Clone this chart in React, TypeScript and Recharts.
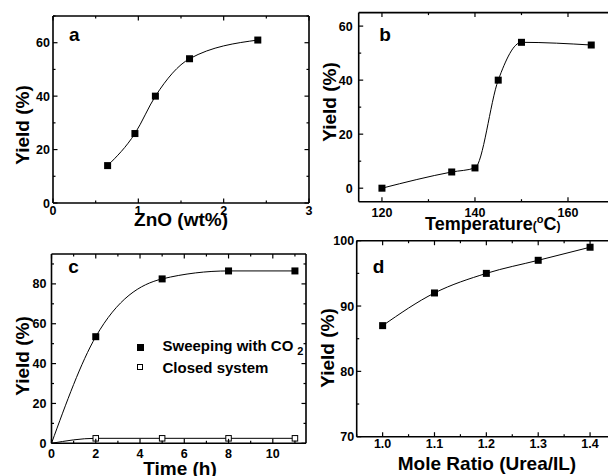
import React from 'react';
import { LineChart, Line, XAxis, YAxis, Legend } from 'recharts';

// panel a: ZnO loading
const znoLoading = [0.64, 0.96, 1.2, 1.6, 2.4];
const znoYield = [14, 26, 40, 54, 61];
// panel b: temperature
const temperatures = [120, 135, 140, 145, 150, 165];
const temperatureYield = [0, 6, 7.5, 40, 54, 53];
// panel c: time
const times = [0, 2, 5, 8, 11];
const sweepingYield = [0, 53.5, 82.5, 86.5, 86.5];
const closedYield = [0, 2.5, 2.5, 2.5, 2.5];
// panel d: mole ratio
const moleRatios = [1.0, 1.1, 1.2, 1.3, 1.4];
const moleRatioYield = [87, 92, 95, 97, 99];

const aXMajor = [0, 1, 2, 3];
const aXAll = [0, 0.5, 1, 1.5, 2, 2.5, 3];
const aYMajor = [0, 20, 40, 60];
const aYAll = [0, 10, 20, 30, 40, 50, 60, 70];
const bXMajor = [120, 140, 160];
const bXAll = [120, 130, 140, 150, 160, 170];
const bYMajor = [0, 20, 40, 60];
const bYAll = [0, 10, 20, 30, 40, 50, 60];
const cXMajor = [0, 2, 4, 6, 8, 10];
const cXAll = [0, 1, 2, 3, 4, 5, 6, 7, 8, 9, 10, 11];
const cYMajor = [0, 20, 40, 60, 80];
const cYAll = [0, 10, 20, 30, 40, 50, 60, 70, 80, 90];
const dXMajor = [1.0, 1.1, 1.2, 1.3, 1.4];
const dXAll = [0.95, 1.0, 1.05, 1.1, 1.15, 1.2, 1.25, 1.3, 1.35, 1.4, 1.45];
const dYMajor = [70, 80, 90, 100];
const dYAll = [70, 75, 80, 85, 90, 95, 100];

const legendOrder = ['Sweeping with CO2', 'Closed system'];

const FONT = '"Liberation Sans", Arial, Helvetica, sans-serif';
const W = 640;
const H = 476;

type Side = 'bottom' | 'top' | 'left' | 'right';

const tickMark =
  (side: Side, majors: number[], gap?: number, fmt: (v: number) => string = (v) => String(v)) =>
  (props: any) => {
    const { x, y, payload } = props;
    const v = payload.value;
    const major = majors.some((m) => Math.abs(m - v) < 1e-9);
    const len = major ? 4.5 : 2.5;
    const d =
      side === 'bottom' ? [0, -len] : side === 'top' ? [0, len] : side === 'left' ? [len, 0] : [-len, 0];
    let label = null;
    if (gap !== undefined && major) {
      label =
        side === 'bottom' ? (
          <text x={x} y={y + gap} textAnchor="middle" fontSize={12.5} fontWeight={700} fontFamily={FONT} fill="#000">
            {fmt(v)}
          </text>
        ) : (
          <text x={x - gap} y={y + 4.5} textAnchor="end" fontSize={12.5} fontWeight={700} fontFamily={FONT} fill="#000">
            {fmt(v)}
          </text>
        );
    }
    return (
      <g>
        <line x1={x} y1={y} x2={x + d[0]} y2={y + d[1]} stroke="#000" strokeWidth={1.2} />
        {label}
      </g>
    );
  };

const squareDot = (hollow: boolean) => (props: any) => {
  const { cx, cy, index, payload } = props;
  if (payload.x === 0 || cx == null) return <g key={`d-${index}`} />;
  const s = hollow ? 5.5 : 7;
  return (
    <rect
      key={`d-${index}`}
      x={cx - s / 2}
      y={cy - s / 2}
      width={s}
      height={s}
      fill={hollow ? '#fff' : '#000'}
      stroke="#000"
      strokeWidth={hollow ? 1 : 0}
    />
  );
};

interface Box {
  left: number;
  top: number;
  right: number;
  bottom: number;
}

interface PanelProps {
  box: Box;
  xDomain: [number, number];
  yDomain: [number, number];
  xAll: number[];
  xMajor: number[];
  yAll: number[];
  yMajor: number[];
  xGap: number;
  yGap: number;
  xFmt?: (v: number) => string;
  data: any[];
  series: { key: string; name: string; hollow?: boolean }[];
  legend?: React.ReactNode;
}

const axisLine = { stroke: '#000', strokeWidth: 1.6 };

// axes are 1px thick boxes; margins are set so the axis lines fall on the box edges
const Panel: React.FC<PanelProps> = (p) => (
  <div style={{ position: 'absolute', left: 0, top: 0 }}>
    <LineChart
      width={W}
      height={H}
      data={p.data}
      margin={{
        left: p.box.left - 1,
        top: p.box.top - 1,
        right: W - p.box.right - 1,
        bottom: H - p.box.bottom - 1,
      }}
    >
      <XAxis
        dataKey="x"
        type="number"
        domain={p.xDomain}
        allowDataOverflow
        ticks={p.xAll}
        interval={0}
        height={1}
        tickSize={0}
        tickMargin={0}
        tickLine={false}
        axisLine={axisLine}
        tick={tickMark('bottom', p.xMajor, p.xGap, p.xFmt)}
      />
      <XAxis
        xAxisId="top"
        dataKey="x"
        orientation="top"
        type="number"
        domain={p.xDomain}
        allowDataOverflow
        ticks={p.xAll}
        interval={0}
        height={1}
        tickSize={0}
        tickMargin={0}
        tickLine={false}
        axisLine={axisLine}
        tick={tickMark('top', p.xMajor)}
      />
      <YAxis
        type="number"
        domain={p.yDomain}
        allowDataOverflow
        ticks={p.yAll}
        interval={0}
        width={1}
        tickSize={0}
        tickMargin={0}
        tickLine={false}
        axisLine={axisLine}
        tick={tickMark('left', p.yMajor, p.yGap)}
      />
      <YAxis
        yAxisId="right"
        dataKey={p.series[0].key}
        orientation="right"
        type="number"
        domain={p.yDomain}
        allowDataOverflow
        ticks={p.yAll}
        interval={0}
        width={1}
        tickSize={0}
        tickMargin={0}
        tickLine={false}
        axisLine={axisLine}
        tick={tickMark('right', p.yMajor)}
      />
      {p.series.map((s) => (
        <Line
          key={s.key}
          dataKey={s.key}
          name={s.name}
          type="monotone"
          stroke="#000"
          strokeWidth={1}
          dot={squareDot(!!s.hollow)}
          activeDot={false}
          isAnimationActive={false}
        />
      ))}
      {p.legend}
    </LineChart>
  </div>
);

const legendLabel = (name: string) =>
  name === 'Sweeping with CO2' ? (
    <>
      Sweeping with CO<sub style={{ fontSize: 11, marginLeft: 4, verticalAlign: -4 }}>2</sub>
    </>
  ) : (
    name
  );

const renderLegend = (props: any) => {
  const items = [...(props.payload || [])].sort(
    (a: any, b: any) => legendOrder.indexOf(a.value) - legendOrder.indexOf(b.value)
  );
  return (
    <div style={{ fontFamily: FONT, fontWeight: 700, fontSize: 15, color: '#000' }}>
      {items.map((entry: any) => {
        const hollow = entry.value === 'Closed system';
        return (
          <div key={entry.value} style={{ display: 'flex', alignItems: 'center', height: 20, whiteSpace: 'nowrap' }}>
            <span
              style={{
                display: 'inline-block',
                boxSizing: 'border-box',
                width: hollow ? 6 : 7,
                height: hollow ? 6 : 7,
                background: hollow ? '#fff' : '#000',
                border: '1px solid #000',
                marginLeft: hollow ? 0.5 : 0,
              }}
            />
            <span style={{ marginLeft: hollow ? 19.5 : 19 }}>{legendLabel(entry.value)}</span>
          </div>
        );
      })}
    </div>
  );
};

const Title: React.FC<{ x: number; y: number; rotate?: boolean; size?: number; anchor?: string; children: React.ReactNode }> = ({
  x,
  y,
  rotate,
  size = 19,
  anchor = 'middle',
  children,
}) => (
  <text
    x={x}
    y={y}
    fontFamily={FONT}
    fontWeight={700}
    fontSize={size}
    textAnchor={anchor as any}
    fill="#000"
    transform={rotate ? `rotate(-90 ${x} ${y})` : undefined}
  >
    {children}
  </text>
);

export default function App() {
  const dataA = znoLoading.map((x, i) => ({ x, y: znoYield[i] }));
  const dataB = temperatures.map((x, i) => ({ x, y: temperatureYield[i] }));
  const dataC = times.map((x, i) => ({ x, sweep: sweepingYield[i], closed: closedYield[i] }));
  const dataD = moleRatios.map((x, i) => ({ x, y: moleRatioYield[i] }));

  return (
    <div style={{ position: 'absolute', left: 0, top: 0, width: 608, height: 476, overflow: 'hidden', background: '#fff' }}>
      <Panel
        box={{ left: 53, top: 16, right: 309, bottom: 203 }}
        xDomain={[0, 3]}
        yDomain={[0, 70]}
        xAll={aXAll}
        xMajor={aXMajor}
        yAll={aYAll}
        yMajor={aYMajor}
        xGap={12}
        yGap={3}
        data={dataA}
        series={[{ key: 'y', name: 'Yield' }]}
      />
      <Panel
        box={{ left: 358.7, top: 12.6, right: 614.5, bottom: 201.7 }}
        xDomain={[115, 170]}
        yDomain={[-5, 65]}
        xAll={bXAll}
        xMajor={bXMajor}
        yAll={bYAll}
        yMajor={bYMajor}
        xGap={15.5}
        yGap={6}
        data={dataB}
        series={[{ key: 'y', name: 'Yield' }]}
      />
      <Panel
        box={{ left: 51.5, top: 254, right: 306, bottom: 443.3 }}
        xDomain={[0, 11.5]}
        yDomain={[0, 95]}
        xAll={cXAll}
        xMajor={cXMajor}
        yAll={cYAll}
        yMajor={cYMajor}
        xGap={15}
        yGap={5}
        data={dataC}
        series={[
          { key: 'sweep', name: 'Sweeping with CO2' },
          { key: 'closed', name: 'Closed system', hollow: true },
        ]}
        legend={
          <Legend
            layout="vertical"
            align="center"
            verticalAlign="middle"
            content={renderLegend}
            wrapperStyle={{ left: 136.5, top: 337, width: 200 }}
          />
        }
      />
      <Panel
        box={{ left: 356.7, top: 240.7, right: 616, bottom: 436.7 }}
        xDomain={[0.95, 1.45]}
        yDomain={[70, 100]}
        xAll={dXAll}
        xMajor={dXMajor}
        yAll={dYAll}
        yMajor={dYMajor}
        xGap={11.5}
        yGap={2.5}
        xFmt={(v) => v.toFixed(1)}
        data={dataD}
        series={[{ key: 'y', name: 'Yield' }]}
      />
      <svg width={608} height={476} style={{ position: 'absolute', left: 0, top: 0, pointerEvents: 'none' }}>
        <Title x={69} y={40.7} anchor="start">a</Title>
        <Title x={29} y={125} rotate>Yield (%)</Title>
        <Title x={181} y={225.5}>ZnO (wt%)</Title>

        <Title x={379.3} y={40.7} anchor="start">b</Title>
        <Title x={336} y={102} rotate>Yield (%)</Title>
        <text x={425} y={229.5} fontFamily={FONT} fontWeight={700} fill="#000">
          <tspan fontSize={18}>Temperature</tspan>
          <tspan fontSize={12}>(</tspan>
          <tspan fontSize={11} dy={-7}>o</tspan>
          <tspan fontSize={18} dy={7}>C</tspan>
          <tspan fontSize={12}>)</tspan>
        </text>

        <Title x={68.3} y={272.7} anchor="start">c</Title>
        <Title x={29} y={356} rotate>Yield (%)</Title>
        <Title x={180} y={475}>Time (h)</Title>

        <Title x={372.7} y={272.7} anchor="start">d</Title>
        <Title x={334} y={348} rotate>Yield (%)</Title>
        <Title x={487} y={470.3}>Mole Ratio (Urea/IL)</Title>
      </svg>
    </div>
  );
}
